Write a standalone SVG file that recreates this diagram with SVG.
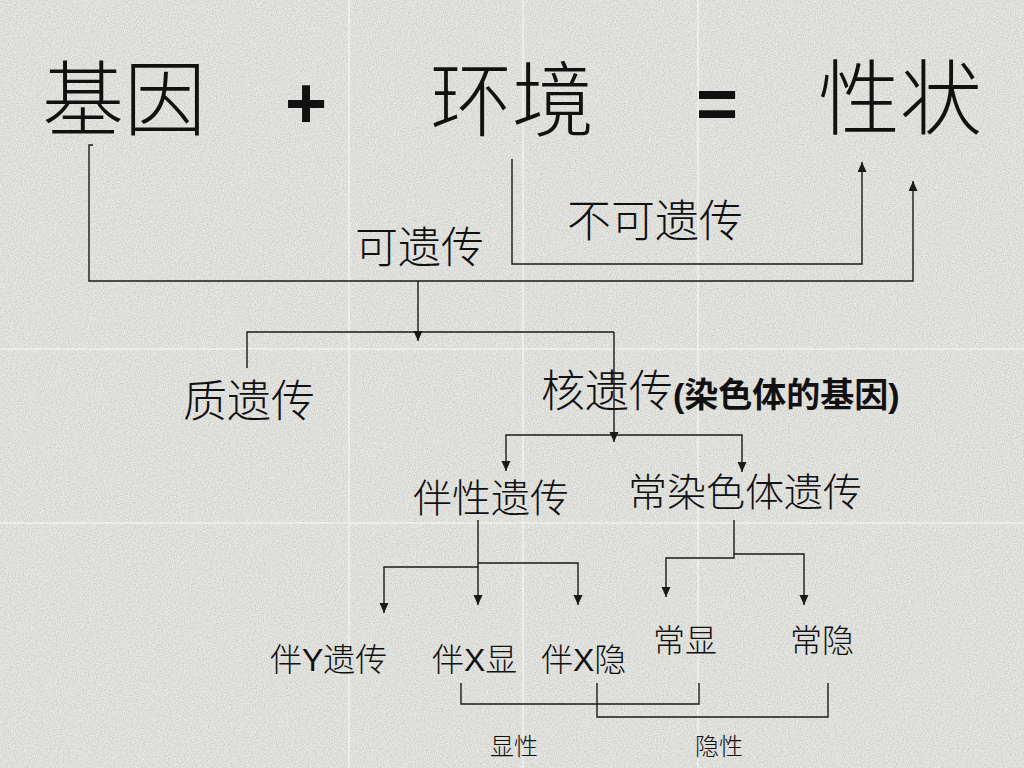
<svg xmlns="http://www.w3.org/2000/svg" width="1024" height="768" viewBox="0 0 1024 768">
<defs>
<style>
.cn{font-family:"Noto Sans CJK SC","Noto Sans CJK JP",sans-serif;font-weight:300;fill:#111;}
.mix{font-family:"Liberation Sans","Noto Sans CJK SC",sans-serif;font-weight:300;fill:#111;}
.op{font-family:"Liberation Sans",sans-serif;font-weight:bold;fill:#111;}
.ln{fill:none;stroke:#1a1a1a;stroke-width:1.4;}
.ar{marker-end:url(#ah);}
</style>
<marker id="ah" markerUnits="userSpaceOnUse" markerWidth="11" markerHeight="10" refX="10" refY="4.5" orient="auto">
<path d="M0,0 L10,4.5 L0,9 Z" fill="#1a1a1a"/>
</marker>
<filter id="grain" x="0" y="0" width="100%" height="100%">
<feTurbulence type="fractalNoise" baseFrequency="0.85" numOctaves="2" seed="3" result="n"/>
<feColorMatrix in="n" type="matrix" values="0 0 0 0 0.4  0 0 0 0 0.4  0 0 0 0 0.39  1.6 0 0 0 -0.55"/>
</filter>
</defs>
<g id="background">
<rect x="0" y="0" width="1024" height="768" fill="#e8e8e5"/>
<rect x="0" y="0" width="1024" height="768" filter="url(#grain)" opacity="0.6"/>
<g stroke="#f6f6f4" stroke-width="1.5" opacity="0.8">
<line x1="349" y1="0" x2="349" y2="768"/>
<line x1="523" y1="0" x2="523" y2="768"/>
<line x1="698" y1="0" x2="698" y2="768"/>
<line x1="0" y1="349" x2="1024" y2="349"/>
<line x1="0" y1="523" x2="1024" y2="523"/>
</g>
</g>
<g id="connectors">
<path class="ln" d="M93,145 L89,145 L89,281 L913,281 L913,181" marker-end="url(#ah)"/>
<path class="ln ar" d="M512,159 L512,264 L862,264 L862,162"/>
<path class="ln ar" d="M418,281 L418,341"/>
<path class="ln" d="M247,368 L247,332 L614,332"/>
<path class="ln ar" d="M614,332 L614,442"/>
<path class="ln ar" d="M614,435 L506,435 L506,471"/>
<path class="ln ar" d="M614,435 L742,435 L742,472"/>
<path class="ln ar" d="M478,520 L478,605"/>
<path class="ln ar" d="M478,567 L384,567 L384,613"/>
<path class="ln ar" d="M478,563 L578,563 L578,605"/>
<path class="ln ar" d="M734,520 L734,558 L666,558 L666,597"/>
<path class="ln ar" d="M734,554 L804,554 L804,605"/>
<path class="ln" d="M461,683 L461,704 L699,704 L699,683"/>
<path class="ln" d="M597,683 L597,717 L828,717 L828,683"/>
</g>
<g id="n-gene"><text class="cn" x="42" y="129" font-size="82">基因</text></g>
<g id="n-plus"><text class="op" x="306" y="128" font-size="72" text-anchor="middle">+</text></g>
<g id="n-env"><text class="cn" x="430" y="130" font-size="82">环境</text></g>
<g id="n-eq"><text class="op" x="717" y="128" font-size="72" text-anchor="middle">=</text></g>
<g id="n-trait"><text class="cn" x="818" y="128" font-size="82">性状</text></g>
<g id="n-heritable"><text class="cn" x="355" y="263" font-size="43">可遗传</text></g>
<g id="n-nonheritable"><text class="cn" x="567" y="237" font-size="44">不可遗传</text></g>
<g id="n-cyto"><text class="cn" x="183" y="417" font-size="44">质遗传</text></g>
<g id="n-nuclear"><text class="cn" x="541" y="407" font-size="44">核遗传<tspan font-size="34" font-weight="bold" font-family="Liberation Sans, Noto Sans CJK SC, sans-serif">(染色体的基因)</tspan></text></g>
<g id="n-sexlinked"><text class="cn" x="413" y="512" font-size="39">伴性遗传</text></g>
<g id="n-autosomal"><text class="cn" x="628" y="506" font-size="39">常染色体遗传</text></g>
<g id="n-ylinked"><text class="mix" x="270" y="671" font-size="32">伴Y遗传</text></g>
<g id="n-xdom"><text class="mix" x="432" y="671" font-size="32">伴X显</text></g>
<g id="n-xrec"><text class="mix" x="541" y="671" font-size="32">伴X隐</text></g>
<g id="n-adom"><text class="cn" x="653" y="652" font-size="32">常显</text></g>
<g id="n-arec"><text class="cn" x="790" y="652" font-size="32">常隐</text></g>
<g id="n-dominant"><text class="cn" x="490" y="755" font-size="24">显性</text></g>
<g id="n-recessive"><text class="cn" x="695" y="755" font-size="24">隐性</text></g>
</svg>
